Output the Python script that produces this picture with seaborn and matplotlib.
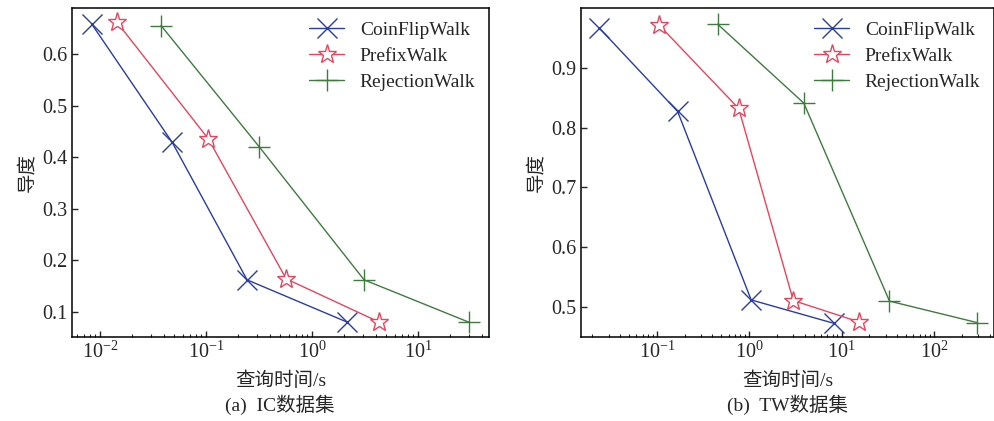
import matplotlib
matplotlib.use('Agg')
import matplotlib.pyplot as plt
import seaborn as sns

# IC dataset
ic_coin_x = [0.0084, 0.048, 0.244, 2.14]
ic_coin_y = [0.658, 0.429, 0.162, 0.080]
ic_prefix_x = [0.0145, 0.105, 0.57, 4.3]
ic_prefix_y = [0.662, 0.436, 0.164, 0.080]
ic_rej_x = [0.0376, 0.316, 3.1, 30]
ic_rej_y = [0.656, 0.421, 0.162, 0.080]

# TW dataset
tw_coin_x = [0.0237, 0.168, 1.05, 8.2]
tw_coin_y = [0.967, 0.827, 0.512, 0.473]
tw_prefix_x = [0.105, 0.77, 3.0, 15.6]
tw_prefix_y = [0.972, 0.832, 0.511, 0.475]
tw_rej_x = [0.455, 3.9, 33, 295]
tw_rej_y = [0.973, 0.841, 0.510, 0.474]

names = ['CoinFlipWalk', 'PrefixWalk', 'RejectionWalk']
colors = ['#2b3d9e', '#e2475f', '#3e7b3e']
markers = ['x', '*', '+']
msizes = [14, 14, 16]

sns.set_style('white')
plt.rcParams['font.family'] = ['Liberation Serif', 'Noto Sans CJK SC']
plt.rcParams['mathtext.fontset'] = 'stix'
plt.rcParams['font.size'] = 14


def draw(ax, series, xlim, ylim, yticks):
  for (xs, ys), name, c, m, ms in zip(series, names, colors, markers, msizes):
    sns.lineplot(x=xs, y=ys, ax=ax, color=c, marker=m, markersize=ms,
                 markeredgecolor=c, markerfacecolor='white', markeredgewidth=1,
                 linewidth=1, label=name, sort=False)
  ax.set_xscale('log')
  ax.set_xlim(*xlim)
  ax.set_ylim(*ylim)
  ax.set_yticks(yticks)
  ax.tick_params(axis='both', which='major', direction='in', length=4,
                 width=1, labelsize=14.5, bottom=True, left=True, top=False, right=False)
  ax.tick_params(axis='x', which='minor', direction='in', length=2,
                 width=0.8, bottom=True, top=False)
  for sp in ax.spines.values():
    sp.set_color('black')
    sp.set_linewidth(1.1)
  ax.set_ylabel('导度', fontsize=14)
  ax.set_xlabel('查询时间/s', fontsize=14, labelpad=6)
  ax.legend(loc='upper right', frameon=False, fontsize=14, handlelength=1.8,
            borderaxespad=0.3, labelspacing=0.42, handletextpad=0.8)


fig = plt.figure(figsize=(9.95, 4.21), dpi=100)
ax1 = fig.add_axes([0.0724, 0.1995, 0.4191, 0.7815])
ax2 = fig.add_axes([0.584, 0.1995, 0.415, 0.7815])

draw(ax1, [(ic_coin_x, ic_coin_y), (ic_prefix_x, ic_prefix_y), (ic_rej_x, ic_rej_y)],
     (10**-2.264, 10**1.67), (0.051, 0.69), [0.1, 0.2, 0.3, 0.4, 0.5, 0.6])
draw(ax2, [(tw_coin_x, tw_coin_y), (tw_prefix_x, tw_prefix_y), (tw_rej_x, tw_rej_y)],
     (10**-1.82, 10**2.65), (0.45, 1.0), [0.5, 0.6, 0.7, 0.8, 0.9])

fig.text(0.2815, 0.025, '(a)  IC数据集', ha='center', fontsize=14)
fig.text(0.7915, 0.025, '(b)  TW数据集', ha='center', fontsize=14)

fig.savefig('out.png', dpi=100)
